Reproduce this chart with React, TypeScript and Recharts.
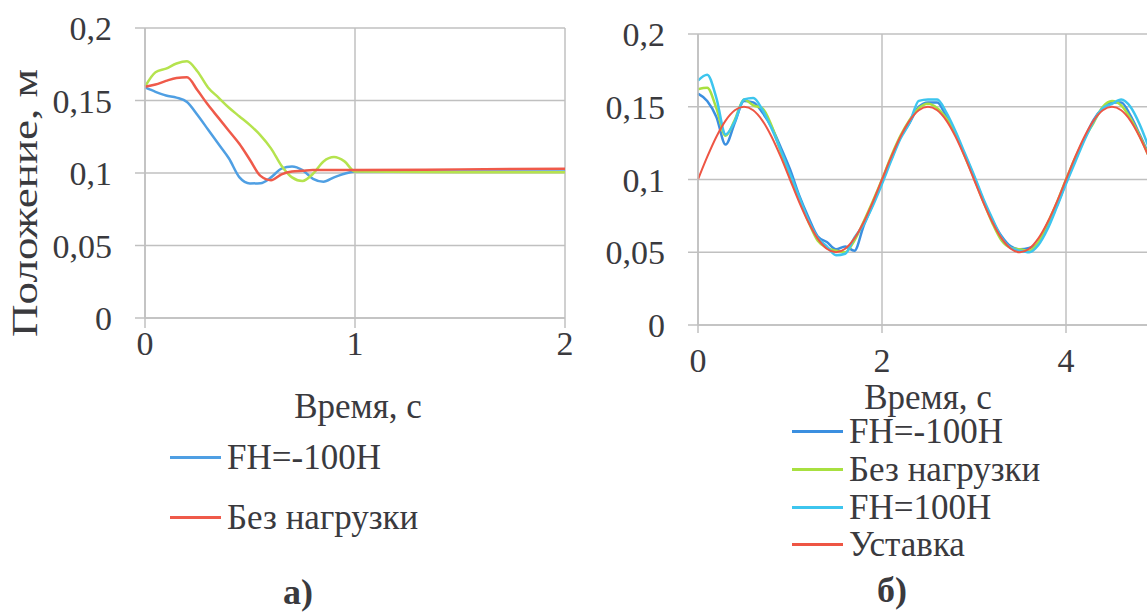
import React from "react";
import {
  LineChart,
  Line,
  XAxis,
  YAxis,
  CartesianGrid,
  Legend,
} from "recharts";

// ---- chart a): step response ----
const timeLeft = [0, 0.05, 0.1, 0.15, 0.2, 0.25, 0.3, 0.35, 0.4, 0.45, 0.5, 0.55, 0.6, 0.65, 0.7, 0.75, 0.8, 0.85, 0.9, 0.95, 1.0, 1.5, 2.0];
const leftMinus100 = [0.159, 0.156, 0.1535, 0.152, 0.149, 0.14, 0.13, 0.12, 0.11, 0.097, 0.0928, 0.093, 0.097, 0.103, 0.1045, 0.102, 0.096, 0.094, 0.097, 0.0995, 0.101, 0.101, 0.101];
const leftNoLoad = [0.1595, 0.161, 0.1635, 0.1655, 0.166, 0.157, 0.147, 0.138, 0.129, 0.12, 0.109, 0.098, 0.095, 0.099, 0.101, 0.1015, 0.102, 0.102, 0.102, 0.102, 0.102, 0.1025, 0.103];
const leftGreen = [0.1595, 0.1695, 0.172, 0.1755, 0.177, 0.17, 0.159, 0.152, 0.145, 0.139, 0.133, 0.126, 0.117, 0.105, 0.097, 0.0945, 0.0995, 0.108, 0.111, 0.108, 0.101, 0.1005, 0.1005];

// ---- chart б): tracking a sine setpoint ----
const timeRight = [
  0, 0.1, 0.2, 0.3, 0.4, 0.5, 0.6, 0.7, 0.8, 0.9, 1.0, 1.1, 1.2, 1.3, 1.4, 1.5, 1.6, 1.7, 1.8, 1.9,
  2.0, 2.1, 2.2, 2.3, 2.4, 2.5, 2.6, 2.7, 2.8, 2.9, 3.0, 3.1, 3.2, 3.3, 3.4, 3.5, 3.6, 3.7, 3.8, 3.9,
  4.0, 4.1, 4.2, 4.3, 4.4, 4.5, 4.6, 4.7, 4.8, 4.9, 5.0,
];
const rightMinus100 = [
  0.159, 0.154, 0.143, 0.124, 0.139, 0.154, 0.153, 0.146, 0.136, 0.122, 0.107, 0.089, 0.074, 0.061, 0.057, 0.052, 0.054, 0.051, 0.068, 0.083,
  0.099, 0.114, 0.129, 0.139, 0.15, 0.153, 0.153, 0.143, 0.131, 0.117, 0.102, 0.086, 0.072, 0.061, 0.054, 0.052, 0.053, 0.056, 0.068, 0.082,
  0.098, 0.114, 0.128, 0.141, 0.149, 0.153, 0.153, 0.144, 0.131, 0.117, 0.102,
];
const rightNoLoad = [
  0.162, 0.163, 0.149, 0.13, 0.141, 0.155, 0.151, 0.149, 0.137, 0.119, 0.103, 0.087, 0.071, 0.058, 0.053, 0.051, 0.05, 0.058, 0.071, 0.085,
  0.1, 0.116, 0.13, 0.141, 0.149, 0.152, 0.149, 0.142, 0.132, 0.116, 0.101, 0.085, 0.07, 0.058, 0.053, 0.052, 0.051, 0.057, 0.07, 0.084,
  0.1, 0.115, 0.128, 0.139, 0.15, 0.154, 0.151, 0.142, 0.13, 0.116, 0.1,
];
const rightPlus100 = [
  0.168, 0.172, 0.156, 0.131, 0.14, 0.155, 0.156, 0.148, 0.135, 0.12, 0.104, 0.088, 0.072, 0.06, 0.054, 0.048, 0.049, 0.06, 0.069, 0.082,
  0.097, 0.113, 0.128, 0.139, 0.154, 0.155, 0.155, 0.146, 0.133, 0.118, 0.103, 0.087, 0.073, 0.06, 0.053, 0.051, 0.05, 0.055, 0.066, 0.081,
  0.097, 0.112, 0.127, 0.14, 0.149, 0.152, 0.155, 0.15, 0.138, 0.122, 0.105,
];
const setpoint = [
  0.1, 0.1155, 0.1294, 0.1405, 0.1476, 0.15, 0.1476, 0.1405, 0.1294, 0.1155, 0.1, 0.0845, 0.0706, 0.0595, 0.0524, 0.05, 0.0524, 0.0595, 0.0706, 0.0845,
  0.1, 0.1155, 0.1294, 0.1405, 0.1476, 0.15, 0.1476, 0.1405, 0.1294, 0.1155, 0.1, 0.0845, 0.0706, 0.0595, 0.0524, 0.05, 0.0524, 0.0595, 0.0706, 0.0845,
  0.1, 0.1155, 0.1294, 0.1405, 0.1476, 0.15, 0.1476, 0.1405, 0.1294, 0.1155, 0.1,
];

const yTicks = [0, 0.05, 0.1, 0.15, 0.2];
const xTicksLeft = [0, 1, 2];
const xTicksRight = [0, 2, 4];

// legend entries as they appear in the figure (the green curve of a) has none)
const legendLeft = ["FH=-100H", "Без нагрузки"];
const legendRight = ["FH=-100H", "Без нагрузки", "FH=100H", "Уставка"];

const leftData = timeLeft.map((t, i) => ({
  t,
  minus: leftMinus100[i],
  noload: leftNoLoad[i],
  green: leftGreen[i],
}));

const rightData = timeRight.map((t, i) => ({
  t,
  minus: rightMinus100[i],
  noload: rightNoLoad[i],
  plus: rightPlus100[i],
  sp: setpoint[i],
}));

const FONT = "'Liberation Serif', 'Times New Roman', serif";
const TEXT = "#3a3a3e";
const GRID = "#c0c0c0";

const fmt = (v: number) => String(v).replace(".", ",");
const tickStyle = { fill: TEXT, fontSize: 34, fontFamily: FONT };

const LegendBox = ({ payload, order, left, padTop, rowH, height }: any) => {
  const items = order
    .map((name: string) => (payload || []).find((p: any) => p.value === name))
    .filter(Boolean);
  return (
    <div style={{ height, paddingTop: padTop, boxSizing: "border-box", fontFamily: FONT }}>
      {items.map((p: any) => (
        <div
          key={p.value}
          style={{ display: "flex", alignItems: "center", height: rowH, marginLeft: left }}
        >
          <span style={{ display: "inline-block", width: 51, height: 3, background: p.color, marginRight: 6 }} />
          <span style={{ fontSize: 35, color: TEXT, lineHeight: 1, fontFamily: FONT }}>{p.value}</span>
        </div>
      ))}
    </div>
  );
};

export default function App() {
  return (
    <div
      style={{
        position: "absolute",
        left: 0,
        top: 0,
        width: 1147,
        height: 614,
        overflow: "hidden",
        background: "#fff",
        fontFamily: FONT,
      }}
    >
      {/* а) */}
      <div style={{ position: "absolute", left: 0, top: 0 }}>
        <LineChart
          width={600}
          height={614}
          data={leftData}
          margin={{ top: 28, right: 35, left: 0, bottom: 0 }}
          style={{ fontFamily: FONT }}
        >
          <CartesianGrid stroke={GRID} strokeWidth={1.5} />
          <XAxis
            dataKey="t"
            type="number"
            domain={[0, 2]}
            ticks={xTicksLeft}
            height={100}
            tickSize={10}
            tickMargin={3}
            axisLine={{ stroke: GRID, strokeWidth: 1.5 }}
            tickLine={{ stroke: GRID, strokeWidth: 1.5 }}
            tick={tickStyle}
            label={{
              value: "Время, с",
              content: (p: any) => {
                const vb = p.viewBox || { x: 145, y: 318, width: 420 };
                return (
                  <text x={vb.x + vb.width / 2 + 3} y={vb.y + 100} textAnchor="middle" fontSize={35} fontFamily={FONT} fill={TEXT}>
                    Время, с
                  </text>
                );
              },
            }}
          />
          <YAxis
            type="number"
            domain={[0, 0.2]}
            ticks={yTicks}
            width={145}
            tickSize={10}
            tickMargin={23}
            tickFormatter={fmt}
            axisLine={{ stroke: GRID, strokeWidth: 1.5 }}
            tickLine={{ stroke: GRID, strokeWidth: 1.5 }}
            tick={tickStyle}
            label={{
              value: "Положение, м",
              content: (p: any) => {
                const vb = p.viewBox || { x: 0, y: 28, height: 290 };
                const cx = vb.x + 25;
                const cy = vb.y + vb.height / 2 + 30;
                return (
                  <text
                    x={cx}
                    y={cy}
                    transform={`rotate(-90 ${cx} ${cy})`}
                    textAnchor="middle"
                    dominantBaseline="central"
                    fontSize={36}
                    fontFamily={FONT}
                    textLength={268}
                    lengthAdjust="spacingAndGlyphs"
                    fill={TEXT}
                  >
                    Положение, м
                  </text>
                );
              },
            }}
          />
          <Legend
            verticalAlign="bottom"
            content={(p: any) => (
              <LegendBox payload={p.payload} order={legendLeft} left={170} padTop={10} rowH={59.5} height={196} />
            )}
          />
          <Line dataKey="minus" name="FH=-100H" stroke="#4f9fe3" strokeWidth={2.5} dot={false} type="monotone" isAnimationActive={false} />
          <Line dataKey="green" name="green" legendType="none" stroke="#b5e34e" strokeWidth={2.5} dot={false} type="monotone" isAnimationActive={false} />
          <Line dataKey="noload" name="Без нагрузки" stroke="#ef5a4a" strokeWidth={2.5} dot={false} type="monotone" isAnimationActive={false} />
        </LineChart>
      </div>

      {/* б) */}
      <div style={{ position: "absolute", left: 560, top: 0 }}>
        <LineChart
          width={720}
          height={614}
          data={rightData}
          margin={{ top: 34, right: 30, left: 0, bottom: 0 }}
          style={{ fontFamily: FONT }}
        >
          <CartesianGrid stroke={GRID} strokeWidth={1.5} />
          <XAxis
            dataKey="t"
            type="number"
            domain={[0, 6]}
            ticks={xTicksRight}
            height={85}
            tickSize={8}
            tickMargin={15}
            axisLine={{ stroke: GRID, strokeWidth: 1.5 }}
            tickLine={{ stroke: GRID, strokeWidth: 1.5 }}
            tick={tickStyle}
            label={{
              value: "Время, с",
              content: (p: any) => {
                const vb = p.viewBox || { x: 138, y: 325, width: 552 };
                return (
                  <text x={vb.x + vb.width / 2 - 46} y={vb.y + 84} textAnchor="middle" fontSize={35} fontFamily={FONT} fill={TEXT}>
                    Время, с
                  </text>
                );
              },
            }}
          />
          <YAxis
            type="number"
            domain={[0, 0.2]}
            ticks={yTicks}
            width={138}
            tickSize={10}
            tickMargin={23}
            tickFormatter={fmt}
            axisLine={{ stroke: GRID, strokeWidth: 1.5 }}
            tickLine={{ stroke: GRID, strokeWidth: 1.5 }}
            tick={tickStyle}
          />
          <Legend
            verticalAlign="bottom"
            content={(p: any) => (
              <LegendBox payload={p.payload} order={legendRight} left={232} padTop={3} rowH={37.7} height={204} />
            )}
          />
          <Line dataKey="minus" name="FH=-100H" stroke="#3b8fe0" strokeWidth={2.5} dot={false} type="monotone" isAnimationActive={false} />
          <Line dataKey="noload" name="Без нагрузки" stroke="#a8e040" strokeWidth={2.5} dot={false} type="monotone" isAnimationActive={false} />
          <Line dataKey="plus" name="FH=100H" stroke="#3dc5ee" strokeWidth={2.5} dot={false} type="monotone" isAnimationActive={false} />
          <Line dataKey="sp" name="Уставка" stroke="#ee5544" strokeWidth={2} dot={false} type="monotone" isAnimationActive={false} />
        </LineChart>
      </div>

      <div style={{ position: "absolute", left: 258, top: 574, width: 80, textAlign: "center", fontSize: 36, fontWeight: "bold", color: TEXT, lineHeight: "36px", fontFamily: FONT }}>
        а)
      </div>
      <div style={{ position: "absolute", left: 852, top: 572, width: 80, textAlign: "center", fontSize: 36, fontWeight: "bold", color: TEXT, lineHeight: "36px", fontFamily: FONT }}>
        б)
      </div>
    </div>
  );
}
